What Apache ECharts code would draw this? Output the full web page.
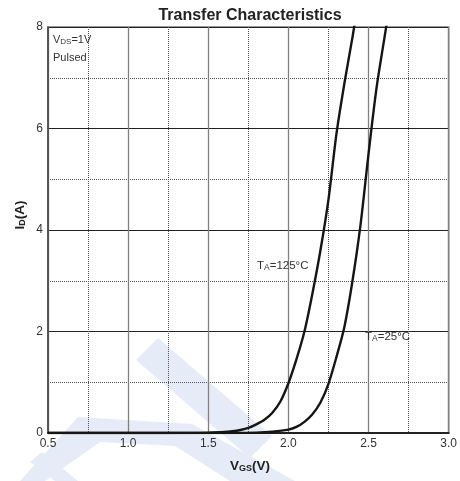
<!DOCTYPE html>
<html>
<head>
<meta charset="utf-8">
<script src="https://cdn.jsdelivr.net/npm/echarts@6/dist/echarts.min.js"></script>
<style>
  html, body { margin: 0; padding: 0; background: #fff; }
  #chart { width: 460px; height: 481px; }
</style>
</head>
<body>
<div id="chart"></div>
<script>
// Gate voltage (V) sampled along each curve
const vgs125 = [0.5, 1.0, 1.4, 1.5, 1.6, 1.65, 1.7, 1.75, 1.8, 1.85, 1.9, 1.95, 2.0, 2.05, 2.1, 2.15, 2.2, 2.25, 2.3, 2.35, 2.4, 2.42];
// Drain current (A) at TA = 125 °C
const id125  = [0, 0, 0.003, 0.008, 0.02, 0.035, 0.06, 0.1, 0.17, 0.26, 0.4, 0.62, 0.98, 1.45, 2.0, 2.75, 3.6, 4.6, 5.9, 6.9, 7.8, 8.2];

const vgs25 = [0.5, 1.5, 1.8, 1.9, 2.0, 2.05, 2.1, 2.15, 2.2, 2.25, 2.3, 2.35, 2.4, 2.45, 2.5, 2.55, 2.6, 2.62];
// Drain current (A) at TA = 25 °C
const id25  = [0, 0, 0.008, 0.025, 0.066, 0.12, 0.22, 0.37, 0.6, 0.97, 1.5, 2.1, 3.0, 4.1, 5.5, 6.8, 7.8, 8.2];

const xTicks = [0.5, 1.0, 1.5, 2.0, 2.5, 3.0];
const yTicks = [0, 2, 4, 6, 8];

const FONT = '"Liberation Sans", Arial, sans-serif';

function pairs(xs, ys) { return xs.map((x, i) => [x, ys[i]]); }

const chart = echarts.init(document.getElementById('chart'), null, { renderer: 'canvas' });

const subText = (size) => ({
  m: { fontFamily: FONT, fontSize: size, fill: '#333' },
  s: { fontFamily: FONT, fontSize: size - 3, fill: '#333', padding: [4, 0, 0, 0] }
});

const option = {
  backgroundColor: '#fff',
  animation: false,
  title: {
    text: 'Transfer Characteristics',
    left: 245, top: 3, textAlign: 'center',
    textStyle: { fontFamily: FONT, fontSize: 16, fontWeight: 'bold', color: '#222' }
  },
  grid: {
    left: 48, right: 8, top: 27, bottom: 48,
    show: true, borderColor: '#777', borderWidth: 1.5, backgroundColor: 'transparent'
  },
  xAxis: {
    type: 'value',
    min: xTicks[0], max: xTicks[xTicks.length - 1], interval: 0.5,
    axisLine: { show: true, onZero: false, lineStyle: { color: '#222', width: 2 } },
    axisTick: { show: false },
    axisLabel: {
      fontFamily: FONT, fontSize: 12, color: '#333', margin: 5,
      formatter: v => v.toFixed(1)
    },
    splitLine: { show: true, lineStyle: { color: '#808080', width: 1.3 } },
    minorTick: { show: false, splitNumber: 2 },
    minorSplitLine: { show: true, lineStyle: { color: '#555', width: 1, type: [1, 1] } }
  },
  yAxis: {
    type: 'value',
    min: yTicks[0], max: yTicks[yTicks.length - 1], interval: 2,
    axisLine: { show: true, lineStyle: { color: '#444', width: 1.5 } },
    axisTick: { show: false },
    axisLabel: { fontFamily: FONT, fontSize: 12, color: '#333', margin: 5 },
    splitLine: { show: true, lineStyle: { color: '#222', width: 1 } },
    minorTick: { show: false, splitNumber: 2 },
    minorSplitLine: { show: true, lineStyle: { color: '#555', width: 1, type: [1, 1] } }
  },
  series: [
    {
      name: 'TA=125°C', type: 'line', data: pairs(vgs125, id125),
      smooth: 0.3, showSymbol: false, clip: true,
      lineStyle: { color: '#151515', width: 2.4 }, z: 5
    },
    {
      name: 'TA=25°C', type: 'line', data: pairs(vgs25, id25),
      smooth: 0.3, showSymbol: false, clip: true,
      lineStyle: { color: '#151515', width: 2.4 }, z: 5
    }
  ],
  graphic: [
    // faint watermark bands in the lower left
    { type: 'polygon', z: -10, silent: true,
      shape: { points: [[136, 360], [158, 338], [272, 436], [250, 458]] },
      style: { fill: '#e6ecf7' } },
    { type: 'polygon', z: -10, silent: true,
      shape: { points: [[78, 417], [192, 424], [295, 481], [230, 481], [175, 446], [100, 442], [45, 481], [20, 481]] },
      style: { fill: '#e6ecf7' } },
    { type: 'polygon', z: -10, silent: true,
      shape: { points: [[30, 462], [42, 452], [78, 481], [55, 481]] },
      style: { fill: '#e6ecf7' } },

    { type: 'text', left: 53, top: 34, z: 10,
      style: { text: '{m|V}{s|DS}{m|=1V}', rich: subText(11) } },
    { type: 'text', left: 53, top: 52, z: 10,
      style: { text: 'Pulsed', fontFamily: FONT, fontSize: 11, fill: '#333' } },
    { type: 'text', left: 257, top: 260, z: 10,
      style: { text: '{m|T}{s|A}{m|=125°C}', rich: subText(11.5) } },
    { type: 'text', left: 365, top: 331, z: 10,
      style: { text: '{m|T}{s|A}{m|=25°C}', rich: subText(11.5) } },
    { type: 'text', x: 250, y: 466, z: 10,
      style: {
        text: '{m|V}{s|GS}{m|(V)}', align: 'center', verticalAlign: 'middle',
        rich: {
          m: { fontFamily: FONT, fontSize: 13.5, fontWeight: 'bold', fill: '#222' },
          s: { fontFamily: FONT, fontSize: 9, fontWeight: 'bold', fill: '#222', padding: [6, 0, 0, 0] }
        }
      } },
    { type: 'text', x: 20, y: 215, rotation: Math.PI / 2, z: 10,
      style: {
        text: '{m|I}{s|D}{m|(A)}', align: 'center', verticalAlign: 'middle',
        rich: {
          m: { fontFamily: FONT, fontSize: 13.5, fontWeight: 'bold', fill: '#222' },
          s: { fontFamily: FONT, fontSize: 9, fontWeight: 'bold', fill: '#222', padding: [6, 0, 0, 0] }
        }
      } }
  ]
};

chart.setOption(option);
</script>
</body>
</html>
